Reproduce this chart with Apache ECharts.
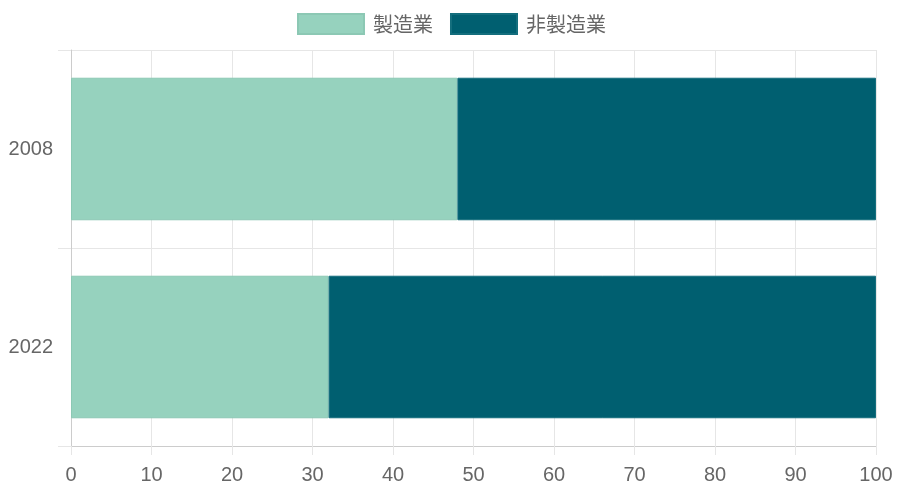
<!DOCTYPE html>
<html>
<head>
<meta charset="utf-8">
<script src="https://cdn.jsdelivr.net/npm/echarts@6/dist/echarts.min.js"></script>
<style>html,body{margin:0;padding:0;background:#fff;}#c{width:914px;height:503px;}</style>
</head>
<body>
<div id="c"></div>
<script>
const categories = ['2008', '2022'];
const seriesNames = ['製造業', '非製造業'];
const manufacturing = [48, 32];
const nonManufacturing = [52, 68];
const xTicks = [0, 10, 20, 30, 40, 50, 60, 70, 80, 90, 100];

const chart = echarts.init(document.getElementById('c'));
const font = 'Liberation Sans, Arial, Noto Sans CJK JP, sans-serif';
chart.setOption({
  animation: false,
  textStyle: { fontFamily: font },
  legend: {
    top: 8,
    left: 292,
    itemWidth: 66,
    itemHeight: 20,
    itemGap: 17,
    icon: 'rect',
    textStyle: { fontSize: 20, color: '#666', fontFamily: 'Noto Sans CJK JP, sans-serif', padding: [0, 0, 0, 4] },
    data: seriesNames
  },
  grid: { left: 71, right: 38, top: 50, bottom: 57, containLabel: false },
  xAxis: {
    type: 'value',
    min: xTicks[0],
    max: xTicks[xTicks.length - 1],
    interval: 10,
    axisLine: { show: true, lineStyle: { color: '#cccccc' } },
    axisTick: { show: true, length: 9, lineStyle: { color: '#e6e6e6' } },
    axisLabel: { fontSize: 20, color: '#666', margin: 19 },
    splitLine: { show: true, lineStyle: { color: '#e6e6e6' } }
  },
  yAxis: {
    type: 'category',
    inverse: true,
    data: categories,
    axisLine: { show: true, lineStyle: { color: '#cccccc' } },
    axisTick: { show: true, length: 13, alignWithLabel: false, lineStyle: { color: '#e6e6e6' } },
    axisLabel: { fontSize: 20, color: '#666', margin: 18 },
    splitLine: { show: true, lineStyle: { color: '#e6e6e6' } }
  },
  series: [
    {
      name: seriesNames[0], type: 'bar', stack: 'total', data: manufacturing,
      barCategoryGap: '28%',
      itemStyle: { color: 'rgb(150,210,190)', borderColor: 'rgb(140,200,180)', borderWidth: 1 }
    },
    {
      name: seriesNames[1], type: 'bar', stack: 'total', data: nonManufacturing,
      barCategoryGap: '28%',
      itemStyle: { color: 'rgb(0,95,112)', borderColor: 'rgb(20,110,125)', borderWidth: 1 }
    }
  ]
});
</script>
</body>
</html>
